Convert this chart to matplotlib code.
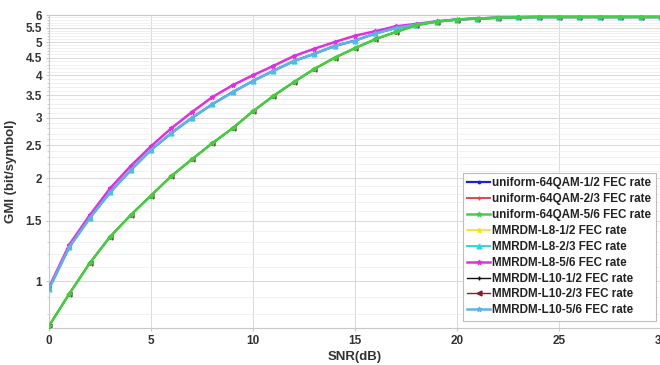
import numpy as np
import matplotlib
matplotlib.use("Agg")
import matplotlib.pyplot as plt
from matplotlib.ticker import FixedLocator, NullFormatter

plt.rcParams["font.family"] = ["Liberation Sans", "DejaVu Sans"]
plt.rcParams["font.weight"] = "bold"

snr = np.arange(0, 31)

# upper family
gmi_hi = [0.95, 1.26, 1.53, 1.82, 2.11, 2.42, 2.71, 3.00, 3.29, 3.57, 3.85,
          4.12, 4.40, 4.62, 4.87, 5.05, 5.30, 5.50, 5.62, 5.74, 5.82,
          5.86, 5.89, 5.91, 5.92, 5.92, 5.92, 5.92, 5.92, 5.92, 5.92]
gmi_hi_top = [0.96, 1.28, 1.56, 1.87, 2.17, 2.48, 2.80, 3.12, 3.45, 3.74, 4.00,
              4.26, 4.55, 4.78, 5.00, 5.22, 5.38, 5.56, 5.65, 5.75, 5.82,
              5.86, 5.89, 5.91, 5.92, 5.92, 5.92, 5.92, 5.92, 5.92, 5.92]
# lower family
gmi_lo = [0.74, 0.92, 1.13, 1.35, 1.56, 1.78, 2.03, 2.27, 2.53, 2.80, 3.14,
          3.48, 3.82, 4.17, 4.50, 4.80, 5.10, 5.35, 5.60, 5.74, 5.82,
          5.86, 5.89, 5.91, 5.92, 5.92, 5.92, 5.92, 5.92, 5.92, 5.92]

labels = ["uniform-64QAM-1/2 FEC rate", "uniform-64QAM-2/3 FEC rate",
          "uniform-64QAM-5/6 FEC rate", "MMRDM-L8-1/2 FEC rate",
          "MMRDM-L8-2/3 FEC rate", "MMRDM-L8-5/6 FEC rate",
          "MMRDM-L10-1/2 FEC rate", "MMRDM-L10-2/3 FEC rate",
          "MMRDM-L10-5/6 FEC rate"]
series = [gmi_hi, gmi_lo, gmi_lo, gmi_lo, gmi_hi, gmi_hi_top, gmi_lo, gmi_lo, gmi_hi]
colors = ["#1f1fd6", "#e8434a", "#3fd13f", "#f2e21b", "#29d8e8", "#e22ee0",
          "#111111", "#8b1a2b", "#5ab4e8"]
markers = [".", "+", "*", "*", "^", "*", "+", "<", "*"]
widths = [1.6, 1.4, 1.8, 1.2, 1.4, 1.8, 1.0, 1.0, 1.8]
zs = [2, 3, 5, 2, 2, 4, 4, 2, 4]

fig = plt.figure(figsize=(6.6, 3.65), dpi=100)
ax = fig.add_axes([0.0742, 0.1014, 0.9273, 0.8575])

for y, lab, c, m, lw, z in zip(series, labels, colors, markers, widths, zs):
    ax.plot(snr, y, color=c, marker=m, ms=3.5, lw=lw, mew=1.0, label=lab, zorder=z)

ax.set_yscale("log")
ax.set_xlim(0, 30)
ax.set_ylim(0.73, 6)
yt = [1, 1.5, 2, 2.5, 3, 3.5, 4, 4.5, 5, 5.5, 6]
ax.yaxis.set_major_locator(FixedLocator(yt))
ax.set_yticklabels([f"{v:g}" for v in yt], fontweight="bold")
ax.yaxis.set_minor_locator(FixedLocator(np.arange(0.8, 6.0, 0.1)))
ax.yaxis.set_minor_formatter(NullFormatter())
ax.set_xticks(range(0, 31, 5))
ax.set_xticklabels([str(v) for v in range(0, 31, 5)], fontweight="bold")

ax.grid(True, which="major", color="#d9d9d9", lw=0.7)
ax.grid(True, which="minor", axis="y", color="#ececec", lw=0.5)
ax.set_axisbelow(True)
for s in ax.spines.values():
    s.set_color("#c8c8c8")
ax.tick_params(which="both", length=2, color="#c8c8c8", labelsize=8.5,
               labelcolor="#333333", pad=3)
ax.tick_params(which="minor", length=1.5)

ax.set_xlabel("SNR(dB)", fontsize=9.5, fontweight="bold", color="#333333", labelpad=3)
ax.set_ylabel("GMI (bit/symbol)", fontsize=9.5, fontweight="bold", color="#333333",
              labelpad=6)

leg = ax.legend(loc="lower right", bbox_to_anchor=(0.995, 0.015),
                prop={"size": 8.4, "weight": "bold"},
                handlelength=1.9, handletextpad=0.2, labelspacing=0.33,
                borderpad=0.4, fancybox=False, framealpha=1, borderaxespad=0.2)
leg.get_frame().set_edgecolor("#bdbdbd")
leg.get_frame().set_linewidth(0.8)
for t in leg.get_texts():
    t.set_color("#222222")

fig.savefig("out.png", dpi=100)
